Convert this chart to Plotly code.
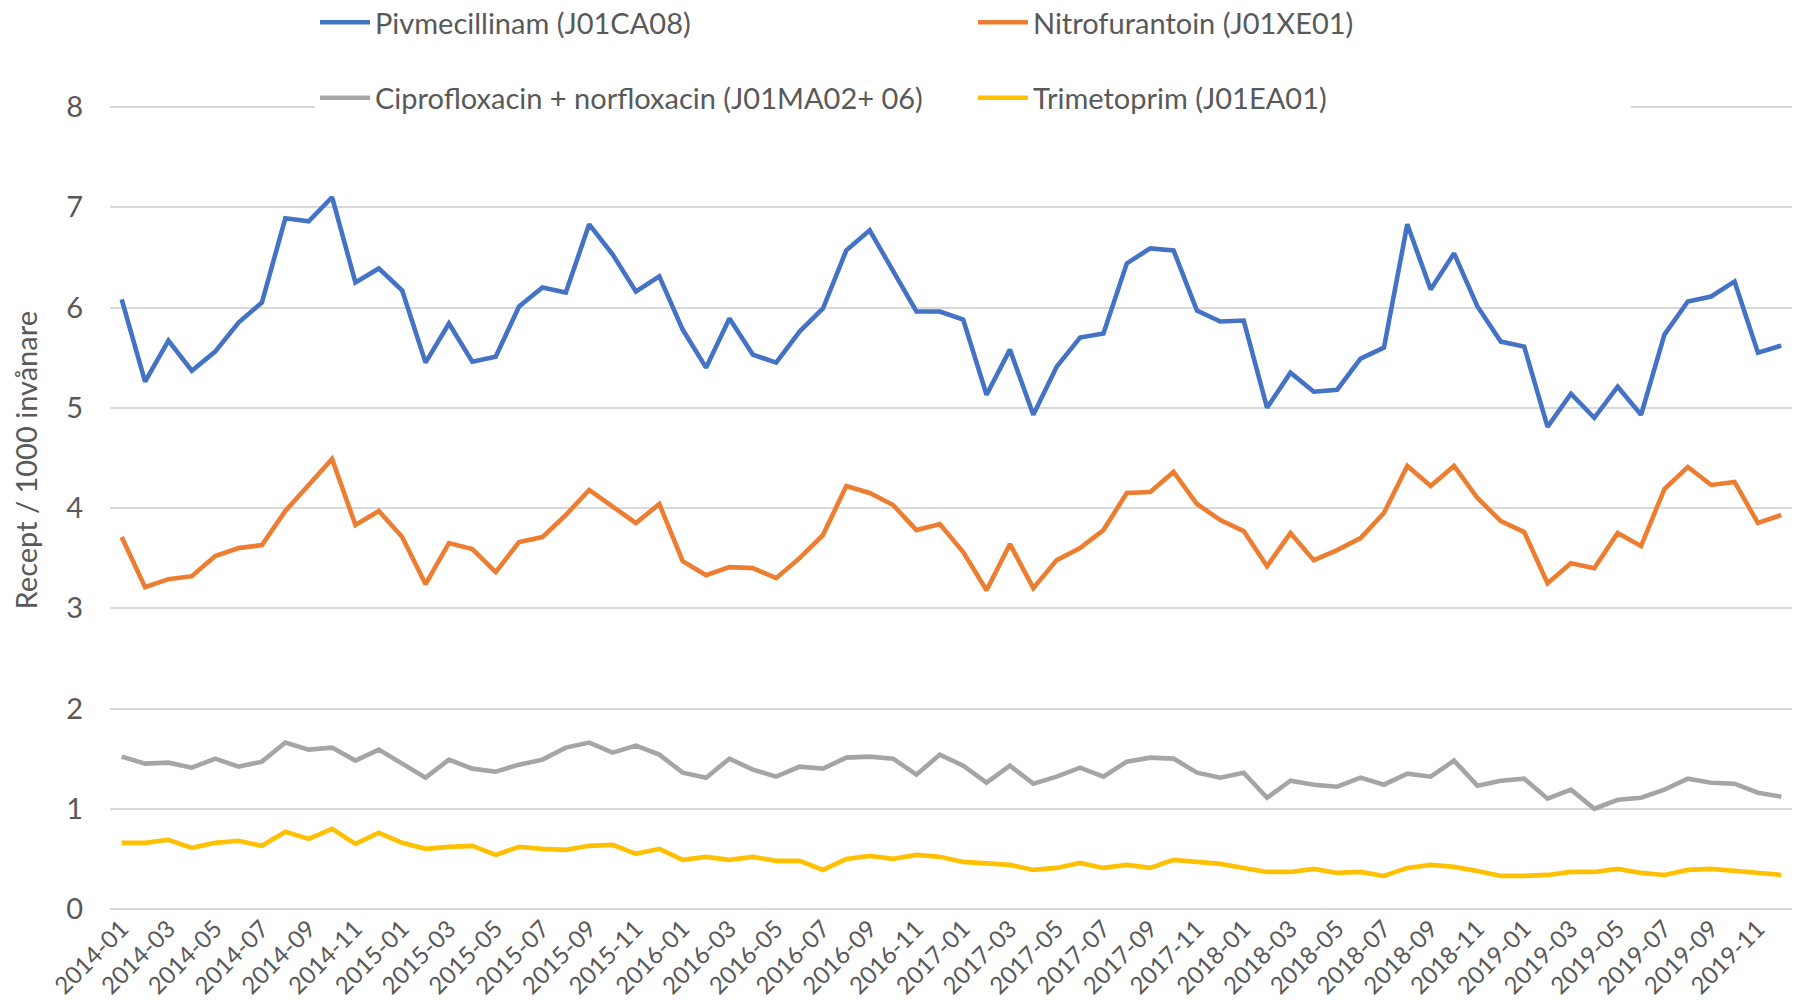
import plotly.graph_objects as go

months = [f"{y}-{m:02d}" for y in range(2014, 2020) for m in range(1, 13)]
tick_labels = months[::2]

pivmecillinam = [
    6.08, 5.26, 5.67, 5.37, 5.56, 5.85, 6.05, 6.89, 6.86, 7.10, 6.25, 6.39,
    6.17, 5.45, 5.84, 5.46, 5.51, 6.01, 6.20, 6.15, 6.83, 6.53, 6.16, 6.31,
    5.78, 5.40, 5.89, 5.53, 5.45, 5.76, 5.99, 6.57, 6.77, 6.36, 5.96, 5.96,
    5.88, 5.13, 5.58, 4.93, 5.41, 5.70, 5.74, 6.44, 6.59, 6.57, 5.97, 5.86,
    5.87, 5.00, 5.35, 5.16, 5.18, 5.49, 5.60, 6.83, 6.18, 6.54, 6.01, 5.66,
    5.61, 4.81, 5.14, 4.90, 5.21, 4.93, 5.73, 6.06, 6.11, 6.26, 5.55, 5.62,
]
nitrofurantoin = [
    3.71, 3.21, 3.29, 3.32, 3.52, 3.60, 3.63, 3.97, 4.23, 4.49, 3.83, 3.97,
    3.71, 3.24, 3.65, 3.59, 3.36, 3.66, 3.71, 3.93, 4.18, 4.01, 3.85, 4.04,
    3.47, 3.33, 3.41, 3.40, 3.30, 3.50, 3.73, 4.22, 4.15, 4.03, 3.78, 3.84,
    3.56, 3.18, 3.64, 3.20, 3.48, 3.60, 3.78, 4.15, 4.16, 4.36, 4.04, 3.88,
    3.77, 3.42, 3.75, 3.48, 3.58, 3.70, 3.95, 4.42, 4.22, 4.42, 4.10, 3.87,
    3.76, 3.25, 3.45, 3.40, 3.75, 3.62, 4.19, 4.41, 4.23, 4.26, 3.85, 3.93,
]
cipro_norflox = [
    1.52, 1.45, 1.46, 1.41, 1.50, 1.42, 1.47, 1.66, 1.59, 1.61, 1.48, 1.59,
    1.45, 1.31, 1.49, 1.40, 1.37, 1.44, 1.49, 1.61, 1.66, 1.56, 1.63, 1.54,
    1.36, 1.31, 1.50, 1.39, 1.32, 1.42, 1.40, 1.51, 1.52, 1.50, 1.34, 1.54,
    1.43, 1.26, 1.43, 1.25, 1.32, 1.41, 1.32, 1.47, 1.51, 1.50, 1.36, 1.31,
    1.36, 1.11, 1.28, 1.24, 1.22, 1.31, 1.24, 1.35, 1.32, 1.48, 1.23, 1.28,
    1.30, 1.10, 1.19, 1.00, 1.09, 1.11, 1.19, 1.30, 1.26, 1.25, 1.16, 1.12,
]
trimetoprim = [
    0.66, 0.66, 0.69, 0.61, 0.66, 0.68, 0.63, 0.77, 0.70, 0.80, 0.65, 0.76,
    0.66, 0.60, 0.62, 0.63, 0.54, 0.62, 0.60, 0.59, 0.63, 0.64, 0.55, 0.60,
    0.49, 0.52, 0.49, 0.52, 0.48, 0.48, 0.39, 0.50, 0.53, 0.50, 0.54, 0.52,
    0.47, 0.45, 0.44, 0.39, 0.41, 0.46, 0.41, 0.44, 0.41, 0.49, 0.47, 0.45,
    0.41, 0.37, 0.37, 0.40, 0.36, 0.37, 0.33, 0.41, 0.44, 0.42, 0.38, 0.33,
    0.33, 0.34, 0.37, 0.37, 0.40, 0.36, 0.34, 0.39, 0.40, 0.38, 0.36, 0.34,
]

series_names = [
    "Pivmecillinam (J01CA08)",
    "Nitrofurantoin (J01XE01)",
    "Ciprofloxacin + norfloxacin (J01MA02+ 06)",
    "Trimetoprim (J01EA01)",
]
series_values = [pivmecillinam, nitrofurantoin, cipro_norflox, trimetoprim]
colors = ["#4472C4", "#ED7D31", "#A5A5A5", "#FFC000"]
legends = ["legend", "legend", "legend2", "legend2"]
y_title = "Recept / 1000 invånare"

FONT = "Lato"
TXT = "#595959"

fig = go.Figure()
for name, vals, col, lg in zip(series_names, series_values, colors, legends):
    fig.add_trace(go.Scatter(
        x=months, y=vals, name=name, mode="lines",
        line=dict(color=col, width=4.6), legend=lg,
    ))

legend_common = dict(
    orientation="h", xref="container", yref="container",
    x=0.1713, xanchor="left", yanchor="middle",
    entrywidth=593, entrywidthmode="pixels", itemwidth=50,
    font=dict(family=FONT, size=29, color=TXT),
    bgcolor="white", borderwidth=0, traceorder="normal",
)

fig.update_layout(
    width=1792, height=992,
    paper_bgcolor="white", plot_bgcolor="white",
    margin=dict(l=102, r=7, t=97, b=91, autoexpand=False),
    legend=dict(legend_common, y=0.9855),
    legend2=dict(legend_common, y=0.9093),
    xaxis=dict(
        type="category", range=[-0.5, 71.5],
        showgrid=False, zeroline=False, showline=False, ticks="",
        tickmode="array", tickvals=tick_labels, ticktext=tick_labels,
        tickangle=-45, tickfont=dict(family=FONT, size=24, color=TXT),
    ),
    yaxis=dict(
        range=[0, 8.02], dtick=1, tick0=0,
        showgrid=True, gridcolor="#D9D9D9", gridwidth=1.5,
        zeroline=True, zerolinecolor="#D9D9D9", zerolinewidth=1.5,
        showline=False, ticks="", ticklabelstandoff=26,
        tickfont=dict(family=FONT, size=29, color=TXT),
    ),
    annotations=[dict(
        text=y_title, textangle=-90, showarrow=False,
        xref="paper", yref="paper", x=-0.0505, y=0.558,
        xanchor="center", yanchor="middle",
        font=dict(family=FONT, size=29, color=TXT),
    )],
    showlegend=True,
)

fig.write_html("out.html")
